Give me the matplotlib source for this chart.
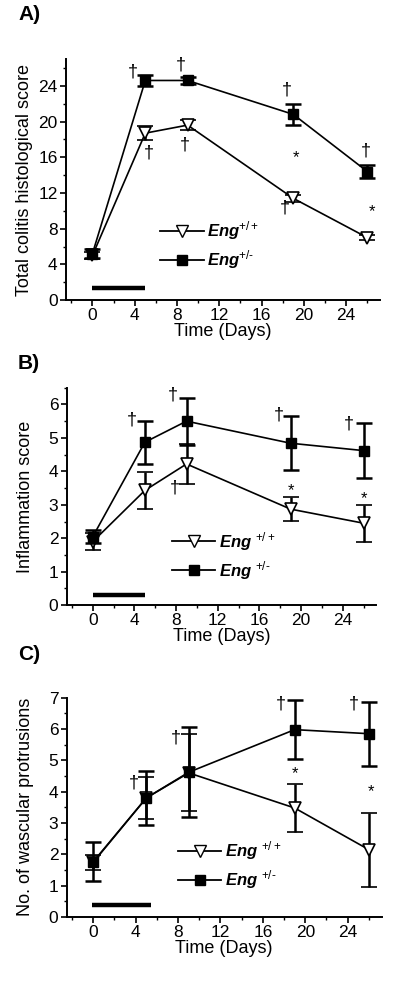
import matplotlib
matplotlib.use("Agg")
import matplotlib.pyplot as plt
from matplotlib.lines import Line2D
from matplotlib.ticker import MultipleLocator

plt.rcParams['font.family'] = ['Liberation Sans', 'DejaVu Sans']
plt.rcParams['mathtext.fontset'] = 'custom'
plt.rcParams['mathtext.rm'] = 'Liberation Sans'
plt.rcParams['mathtext.it'] = 'Liberation Sans:italic'
plt.rcParams['mathtext.bf'] = 'Liberation Sans:bold'

days = [0, 5, 9, 19, 26]

# A) total colitis histological score
a_wt = [5.0, 18.7, 19.6, 11.4, 7.0]
a_wt_err = [0.4, 0.8, 0.6, 0.4, 0.3]
a_het = [5.2, 24.6, 24.6, 20.8, 14.4]
a_het_err = [0.5, 0.65, 0.4, 1.2, 0.7]
a_marks = [(3.85, 25.6, '†'), (8.4, 26.3, '†'), (5.3, 16.5, '†'), (8.75, 17.4, '†'),
           (18.4, 23.5, '†'), (19.3, 16.0, '*'), (18.2, 10.3, '†'), (25.9, 16.7, '†'),
           (26.4, 9.9, '*')]

# B) inflammation score
b_wt = [1.9, 3.43, 4.22, 2.87, 2.45]
b_wt_err = [0.25, 0.56, 0.59, 0.35, 0.55]
b_het = [2.05, 4.87, 5.5, 4.84, 4.62]
b_het_err = [0.2, 0.64, 0.7, 0.8, 0.82]
b_marks = [(3.73, 5.54, '†'), (7.72, 6.29, '†'), (7.9, 3.49, '†'), (17.9, 5.69, '†'),
           (19.0, 3.42, '*'), (24.6, 5.41, '†'), (26.0, 3.17, '*')]

# C) vascular protrusions
c_wt = [1.75, 3.8, 4.6, 3.48, 2.15]
c_wt_err = [0.24, 0.68, 1.23, 0.77, 1.18]
c_het = [1.77, 3.8, 4.62, 5.98, 5.85]
c_het_err = [0.62, 0.86, 1.43, 0.93, 1.02]
c_marks = [(3.82, 4.27, '†'), (7.74, 5.72, '†'), (17.7, 6.79, '†'), (19.0, 4.57, '*'),
           (24.6, 6.79, '†'), (26.2, 3.99, '*')]

panels = [
    dict(rect=[0.165, 0.695, 0.785, 0.245], tag='A)', tag_y=0.985,
         wt=a_wt, wt_err=a_wt_err, het=a_het, het_err=a_het_err, marks=a_marks,
         ylim=(0, 27), major=4, minor=2, ylabel='Total colitis histological score',
         bar_y=1.4, bar_x=(0, 5), leg=(0.30, 0.228),
         labels=[r'Eng$^{+/+}$', r'Eng$^{+/\text{-}}$']),
    dict(rect=[0.167, 0.385, 0.773, 0.221], tag='B)', tag_y=0.631,
         wt=b_wt, wt_err=b_wt_err, het=b_het, het_err=b_het_err, marks=b_marks,
         ylim=(0, 6.5), major=1, minor=0.5, ylabel='Inflammation score',
         bar_y=0.3, bar_x=(0, 5), leg=(0.34, 0.227),
         labels=[r'Eng $^{+/+}$', r'Eng $^{+/\text{-}}$']),
    dict(rect=[0.167, 0.068, 0.787, 0.223], tag='C)', tag_y=0.335,
         wt=c_wt, wt_err=c_wt_err, het=c_het, het_err=c_het_err, marks=c_marks,
         ylim=(0, 7), major=1, minor=0.5, ylabel='No. of wascular protrusions',
         bar_y=0.37, bar_x=(-0.1, 5.4), leg=(0.353, 0.236),
         labels=[r'Eng $^{+/+}$', r'Eng $^{+/\text{-}}$']),
]

fig = plt.figure(figsize=(4, 9.84), dpi=100)

for p in panels:
    ax = fig.add_axes(p['rect'])
    ax.errorbar(days, p['wt'], yerr=p['wt_err'], color='black', lw=1.2,
                marker='v', ms=8, mfc='white', mec='black', mew=1.2,
                ecolor='black', elinewidth=1.8, capsize=5.5, capthick=1.8, zorder=3)
    ax.errorbar(days, p['het'], yerr=p['het_err'], color='black', lw=1.2,
                marker='s', ms=7.5, mfc='black', mec='black',
                ecolor='black', elinewidth=1.8, capsize=5.5, capthick=1.8, zorder=4)
    ax.plot(p['bar_x'], [p['bar_y'], p['bar_y']], color='black', lw=3.2,
            solid_capstyle='butt')
    for x, y, s in p['marks']:
        ax.text(x, y, s, ha='center', va='center', fontsize=13 if s == '†' else 12)

    ax.set_xlim(-2.5, 27.2)
    ax.set_ylim(*p['ylim'])
    ax.xaxis.set_major_locator(MultipleLocator(4))
    ax.xaxis.set_minor_locator(MultipleLocator(2))
    ax.yaxis.set_major_locator(MultipleLocator(p['major']))
    ax.yaxis.set_minor_locator(MultipleLocator(p['minor']))
    ax.tick_params(which='major', length=4, width=1.2, labelsize=12.5, pad=2)
    ax.tick_params(which='minor', length=2.5, width=1.0)
    for side in ['top', 'right']:
        ax.spines[side].set_visible(False)
    for side in ['left', 'bottom']:
        ax.spines[side].set_linewidth(1.4)

    ax.set_xlabel('Time (Days)', fontsize=13, labelpad=0)
    ax.set_ylabel(p['ylabel'], fontsize=13)
    ax.yaxis.set_label_coords(-0.105, 0.5)

    handles = [
        Line2D([], [], color='black', lw=1.3, marker='v', ms=8, mfc='white', mec='black'),
        Line2D([], [], color='black', lw=1.3, marker='s', ms=7, mfc='black'),
    ]
    ax.legend(handles, p['labels'], loc='center left', bbox_to_anchor=p['leg'],
              frameon=False, borderpad=0, borderaxespad=0, handlelength=2.6,
              handletextpad=0.2, labelspacing=0.35,
              prop=dict(family='Liberation Sans', style='italic', weight='bold', size=12))

    fig.text(0.045, p['tag_y'], p['tag'], fontsize=15, fontweight='bold',
             ha='left', va='center')

fig.savefig('out.png', dpi=100)
